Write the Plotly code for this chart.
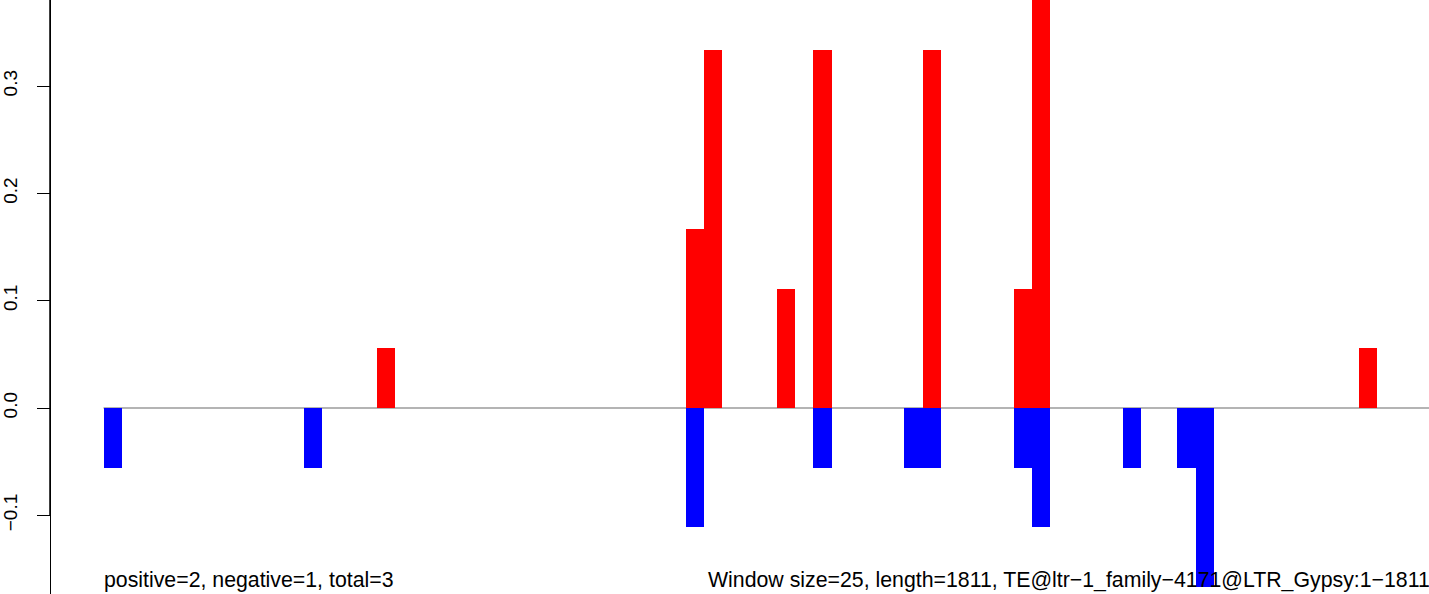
import plotly.graph_objects as go

# Nombre de fenêtres (longueur 1811 / taille de fenêtre 25)
n_windows = 73

# Fenêtres avec des valeurs positives (rouge) et négatives (bleu)
pos_idx = [15, 32, 33, 37, 39, 45, 50, 51, 69]
pos_val = [0.0556, 0.1667, 0.3333, 0.1111, 0.3333, 0.3333, 0.1111, 0.3889, 0.0556]

neg_idx = [0, 11, 32, 39, 44, 45, 50, 51, 56, 59, 60]
neg_val = [-0.0556, -0.0556, -0.1111, -0.0556, -0.0556, -0.0556, -0.0556, -0.1111, -0.0556, -0.0556, -0.1667]

y_ticks = [-0.1, 0.0, 0.1, 0.2, 0.3, 0.4]

left_label = "positive=2, negative=1, total=3"
right_label = "Window size=25, length=1811, TE@ltr\u22121_family\u22124171@LTR_Gypsy:1\u22121811"

font = "Liberation Sans, Arial, Helvetica, sans-serif"
x_range = [-6.187, 72.33]
axis_pos = 50 / 1429  # position de l'axe y (fraction de la largeur)
axis_x = x_range[0] + axis_pos * (x_range[1] - x_range[0])

fig = go.Figure()

fig.add_trace(go.Bar(x=pos_idx, y=pos_val, width=1, marker=dict(color="#ff0000", line=dict(width=0))))
fig.add_trace(go.Bar(x=neg_idx, y=neg_val, width=1, marker=dict(color="#0000ff", line=dict(width=0))))

# Ligne de l'axe y (du premier au dernier tick, comme en R)
fig.add_trace(go.Scatter(x=[axis_x, axis_x], y=[y_ticks[0], y_ticks[-1]], mode="lines",
                         line=dict(color="black", width=1.5), hoverinfo="skip", cliponaxis=False))

# Ligne zéro sur toute la largeur des fenêtres
fig.add_shape(type="line", xref="x", yref="y", x0=-0.5, x1=n_windows - 0.5, y0=0, y1=0,
              line=dict(color="#6a6a6a", width=1.2), layer="below")

fig.add_annotation(text=left_label, xref="x", yref="paper", x=-0.5, y=0.0236,
                   xanchor="left", yanchor="middle", showarrow=False, xshift=-2,
                   font=dict(family=font, size=21.3, color="black"))
fig.add_annotation(text=right_label, xref="paper", yref="paper", x=1, y=0.0236,
                   xanchor="right", yanchor="middle", showarrow=False, xshift=3,
                   font=dict(family=font, size=21.3, color="black"))

fig.update_layout(
    width=1429, height=594,
    margin=dict(l=0, r=0, t=0, b=0),
    paper_bgcolor="white", plot_bgcolor="white",
    barmode="overlay", bargap=0,
    showlegend=False,
    font=dict(family=font, color="black"),
    xaxis=dict(visible=False, range=x_range),
    yaxis=dict(range=[-0.1733, 0.3802], tickvals=y_ticks, tickformat=".1f",
               anchor="free", position=axis_pos,
               ticks="outside", ticklen=13, tickwidth=1.2, tickcolor="black",
               tickangle=-90, tickfont=dict(family=font, size=19, color="black"),
               ticklabelstandoff=12, showgrid=False, zeroline=False,
               showline=True, linecolor="black", linewidth=1.2),
)

# Sans la marge par défaut du <body>, la figure commence au coin de la page
fig.write_html("out.html", config={"displayModeBar": False},
               post_script="document.body.style.margin='0';")
